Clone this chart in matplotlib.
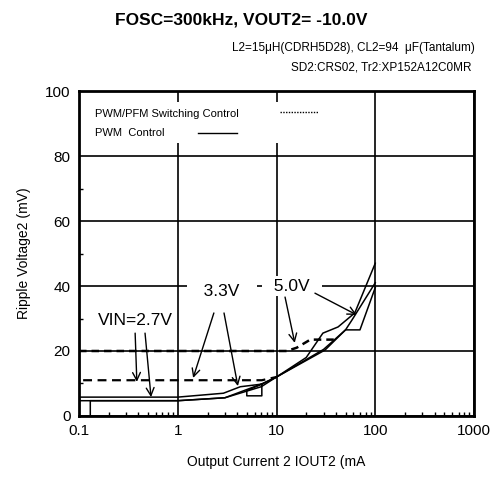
import matplotlib.pyplot as plt
from matplotlib.patches import Rectangle
from matplotlib.ticker import FixedLocator, NullFormatter, LogLocator

plt.rcParams["font.family"] = ["Liberation Sans", "DejaVu Sans"]

# PWM control (solid) curves, one per VIN
pwm_27_x = [0.13, 0.13, 1, 3, 7, 10, 31, 50, 70, 100]
pwm_27_y = [0, 4.7, 4.7, 5.6, 9.8, 12, 20.3, 26.5, 26.5, 39.5]
pwm_33_x = [0.1, 1, 2.9, 4.3, 7.1, 7.1, 5.0, 5.0, 7.1, 10, 30, 50, 58, 100]
pwm_33_y = [5.8, 5.8, 7.0, 9.0, 9.8, 6.2, 6.2, 7.8, 9.8, 12, 20.5, 26.5, 29.5, 41]
pwm_50_x = [0.1, 1, 3, 7, 10, 20, 29.5, 42, 62, 100]
pwm_50_y = [4.7, 4.7, 5.6, 9.0, 12, 18, 25.5, 27.4, 31.7, 47]

# PWM/PFM switching control (dashed)
pfm_low_x = [0.11, 7.1, 10]
pfm_low_y = [11, 11, 12]
pfm_50_x = [0.1, 12.7, 16, 22, 41]
pfm_50_y = [20, 20, 21, 23.5, 23.5]

x_ticks = [0.1, 1, 10, 100, 1000]
x_ticklabels = ["0.1", "1", "10", "100", "1000"]
y_ticks = [0, 20, 40, 60, 80, 100]

fig = plt.figure(figsize=(4.94, 4.82), dpi=100)
ax = fig.add_axes([0.16, 0.137, 0.7995, 0.674])

ax.set_xscale("log")
ax.set_xlim(0.1, 1000)
ax.set_ylim(0, 100)
ax.set_xticks(x_ticks)
ax.set_xticklabels(x_ticklabels)
ax.xaxis.set_minor_locator(LogLocator(base=10, subs=range(2, 10)))
ax.xaxis.set_minor_formatter(NullFormatter())
ax.set_yticks(y_ticks)
ax.yaxis.set_minor_locator(FixedLocator([10, 30, 50, 70, 90]))
ax.tick_params(which="major", direction="in", length=0, labelsize=11, pad=6)
ax.tick_params(which="minor", direction="in", length=3, width=1, color="black")
ax.grid(True, which="major", color="black", linewidth=1.2)
for s in ax.spines.values():
    s.set_linewidth(2)

# legend area blanks out the grid
ax.add_patch(Rectangle((0.0, 0.84), 0.64, 0.125, transform=ax.transAxes,
                       facecolor="white", edgecolor="none", zorder=2.5))

lw = 1.1
ax.plot(pwm_27_x, pwm_27_y, color="black", lw=lw, zorder=4)
ax.plot(pwm_33_x, pwm_33_y, color="black", lw=lw, zorder=4)
ax.plot(pwm_50_x, pwm_50_y, color="black", lw=lw, zorder=4)
ax.plot(pfm_low_x, pfm_low_y, color="black", lw=1.6, ls=(0, (4, 2.5)), zorder=4)
ax.plot(pfm_50_x, pfm_50_y, color="black", lw=1.8, ls=(0, (3, 2)), zorder=4)

# manual legend: text then line sample
ax.text(0.04, 0.93, "PWM/PFM Switching Control", transform=ax.transAxes,
        fontsize=8, va="center", zorder=5)
ax.text(0.04, 0.872, "PWM  Control", transform=ax.transAxes,
        fontsize=8, va="center", zorder=5)
ax.plot([0.51, 0.605], [0.937, 0.937], transform=ax.transAxes, color="black",
        lw=1, ls=(0, (1, 1)), zorder=5)
ax.plot([0.30, 0.40], [0.872, 0.872], transform=ax.transAxes, color="black",
        lw=1, zorder=5)

box = dict(boxstyle="square,pad=0.15", fc="white", ec="none")
arrow = dict(arrowstyle="->", color="black", lw=1, mutation_scale=14,
             shrinkA=0, shrinkB=0)

ax.text(0.37, 29.5, "VIN=2.7V", fontsize=12.5, ha="center", va="center", bbox=box, zorder=5)
ax.annotate("", xy=(0.385, 10.5), xytext=(0.37, 25.5), arrowprops=arrow, zorder=5)
ax.annotate("", xy=(0.536, 5.8), xytext=(0.466, 25.5), arrowprops=arrow, zorder=5)

ax.text(2.8, 38.2, "   3.3V   ", fontsize=12.5, ha="center", va="center", bbox=box, zorder=5)
ax.annotate("", xy=(1.43, 11.7), xytext=(2.32, 31.7), arrowprops=arrow, zorder=5)
ax.annotate("", xy=(4.06, 9.2), xytext=(2.94, 31.7), arrowprops=arrow, zorder=5)

ax.text(14.3, 40, "  5.0V  ", fontsize=12.5, ha="center", va="center", bbox=box, zorder=5)
ax.annotate("", xy=(15.3, 22.5), xytext=(12.2, 36.6), arrowprops=arrow, zorder=5)
ax.annotate("", xy=(65, 31.1), xytext=(24.5, 37.8), arrowprops=arrow, zorder=5)

ax.set_xlabel("Output Current 2 IOUT2 (mA", fontsize=10, labelpad=12)
ax.set_ylabel("Ripple Voltage2 (mV)", fontsize=10, labelpad=10)

fig.text(0.488, 0.958, "FOSC=300kHz, VOUT2= -10.0V", fontsize=12.5,
         fontweight="bold", ha="center", va="center")
fig.text(0.962, 0.9, "L2=15\u03bcH(CDRH5D28), CL2=94  \u03bcF(Tantalum)",
         fontsize=8.5, ha="right", va="center")
fig.text(0.955, 0.859, "SD2:CRS02, Tr2:XP152A12C0MR",
         fontsize=8.5, ha="right", va="center")

fig.savefig("out.png", dpi=100)
